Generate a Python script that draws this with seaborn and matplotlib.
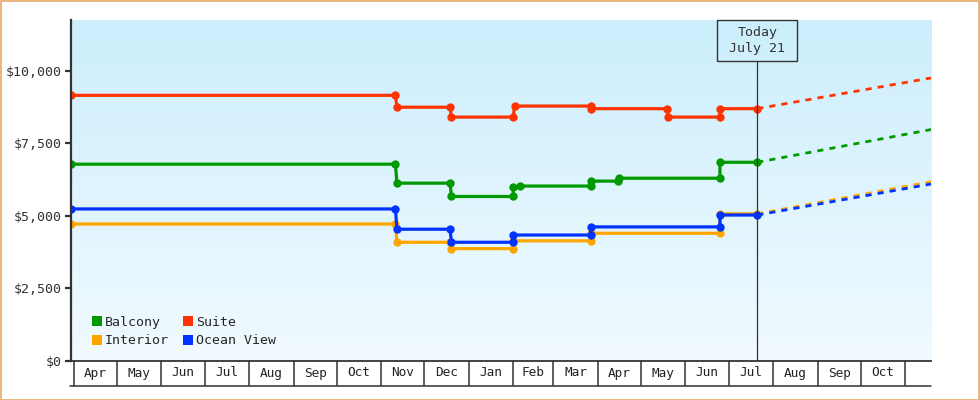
import numpy as np
import pandas as pd
import matplotlib
matplotlib.use("Agg")
import matplotlib.pyplot as plt
import matplotlib.dates as mdates
import matplotlib.transforms as mtransforms
from matplotlib.patches import Rectangle, Patch
import seaborn as sns

# ---------------- data ----------------
series_names = ["Balcony", "Suite", "Interior", "Ocean View"]
series_colors = ["#009900", "#ff3300", "#ffa500", "#0033ff"]

balcony_dates = ["2024-03-30", "2024-11-11", "2024-11-12", "2024-12-19", "2024-12-20",
                 "2025-02-01", "2025-02-01", "2025-02-06", "2025-03-27", "2025-03-27",
                 "2025-04-15", "2025-04-16", "2025-06-25", "2025-06-25", "2025-07-21"]
balcony_prices = [6775, 6775, 6120, 6120, 5660,
                  5660, 5970, 6020, 6020, 6190,
                  6190, 6290, 6290, 6840, 6840]

suite_dates = ["2024-03-30", "2024-11-11", "2024-11-12", "2024-12-19", "2024-12-20",
               "2025-02-01", "2025-02-02", "2025-03-27", "2025-03-27", "2025-05-19",
               "2025-05-20", "2025-06-25", "2025-06-25", "2025-07-21"]
suite_prices = [9150, 9150, 8740, 8740, 8400,
                8400, 8780, 8780, 8690, 8690,
                8400, 8400, 8690, 8690]

interior_dates = ["2024-03-30", "2024-11-11", "2024-11-12", "2024-12-19", "2024-12-20",
                  "2025-02-01", "2025-02-01", "2025-03-27", "2025-03-27", "2025-06-25",
                  "2025-06-25", "2025-07-21"]
interior_prices = [4710, 4710, 4080, 4080, 3860,
                   3860, 4130, 4130, 4390, 4390,
                   5060, 5060]

oceanview_dates = ["2024-03-30", "2024-11-11", "2024-11-12", "2024-12-19", "2024-12-20",
                   "2025-02-01", "2025-02-01", "2025-03-27", "2025-03-27", "2025-06-25",
                   "2025-06-25", "2025-07-21"]
oceanview_prices = [5230, 5230, 4530, 4530, 4080,
                    4080, 4330, 4330, 4610, 4610,
                    5020, 5020]

today_date = "2025-07-21"
today_label = "Today\nJuly 21"
forecast_end_date = "2025-11-19"
forecast_end_prices = [7970, 9750, 6170, 6090]   # Balcony, Suite, Interior, Ocean View

x_start = "2024-03-30"
month_labels = ["Apr", "May", "Jun", "Jul", "Aug", "Sep", "Oct", "Nov", "Dec", "Jan",
                "Feb", "Mar", "Apr", "May", "Jun", "Jul", "Aug", "Sep", "Oct"]
month_first = "2024-04-01"
y_ticks = [0, 2500, 5000, 7500, 10000]
y_max = 11750
legend_order = ["Balcony", "Interior", "Suite", "Ocean View"]

# ---------------- style ----------------
sns.set_style("white")
plt.rcParams["font.family"] = ["DejaVu Sans Mono"]
FS = 9.5
DARK = "#333333"

W, H = 980, 400
L, R, T, B = 71, 931, 20, 360.5
fig = plt.figure(figsize=(W / 100, H / 100), dpi=100)
ax = fig.add_axes([L / W, (H - B) / H, (R - L) / W, (B - T) / H])

# gradient background
g = np.linspace(0, 1, 256)[:, None, None]
top_c = np.array([0.80, 0.935, 0.99])
bot_c = np.array([0.945, 0.98, 1.0])
img = top_c[None, None, :] * (1 - g) + bot_c[None, None, :] * g
ax.imshow(img, extent=[0, 1, 0, 1], transform=ax.transAxes, aspect="auto",
          origin="upper", zorder=0, interpolation="bilinear")

all_dates = [balcony_dates, suite_dates, interior_dates, oceanview_dates]
all_prices = [balcony_prices, suite_prices, interior_prices, oceanview_prices]

for name, col, d, p, fend in zip(series_names, series_colors, all_dates, all_prices,
                                 forecast_end_prices):
    df = pd.DataFrame({"date": pd.to_datetime(d), "price": p})
    sns.lineplot(data=df, x="date", y="price", ax=ax, color=col, estimator=None,
                 sort=False, linewidth=2.3, marker="o", markersize=6,
                 markeredgewidth=0, zorder=3)
    fdf = pd.DataFrame({"date": pd.to_datetime([d[-1], forecast_end_date]),
                        "price": [p[-1], fend]})
    sns.lineplot(data=fdf, x="date", y="price", ax=ax, color=col, estimator=None,
                 sort=False, linewidth=2.0, linestyle=(0, (2.2, 2.2)), zorder=3)

ax.set_xlim(mdates.date2num(pd.Timestamp(x_start)),
            mdates.date2num(pd.Timestamp(forecast_end_date)))
ax.set_ylim(0, y_max)
ax.set_xlabel("")
ax.set_ylabel("")

# y axis
ax.set_yticks(y_ticks)
ax.set_yticklabels([f"${v:,}" for v in y_ticks])
ax.tick_params(axis="y", length=4, width=1.6, color=DARK, pad=2.5,
               labelsize=FS, labelcolor=DARK, left=True)
ax.set_xticks([])
for s in ["top", "right"]:
    ax.spines[s].set_visible(False)
ax.spines["left"].set_color(DARK)
ax.spines["left"].set_linewidth(1.6)
ax.spines["bottom"].set_color(DARK)
ax.spines["bottom"].set_linewidth(1.3)
ax.spines["left"].set_zorder(5)

# month boxes under the axis
trans = mtransforms.blended_transform_factory(ax.transData, ax.transAxes)
box_h = 25 / (B - T)
bounds = pd.date_range(month_first, periods=len(month_labels) + 1, freq="MS")
bnum = mdates.date2num(bounds)
ax.vlines(bnum, -box_h, 0, transform=trans, colors=DARK, lw=1.1, clip_on=False)
ax.plot([-1 / (R - L), 1], [-box_h, -box_h], transform=ax.transAxes, color=DARK,
        lw=1.1, clip_on=False)
for i, lab in enumerate(month_labels):
    ax.text((bnum[i] + bnum[i + 1]) / 2, -box_h / 2, lab, transform=trans,
            ha="center", va="center", fontsize=FS - 0.3, color="#222222")

# today marker
tnum = mdates.date2num(pd.Timestamp(today_date))
days_per_px = (ax.get_xlim()[1] - ax.get_xlim()[0]) / (R - L)
box_w_days = 80 * days_per_px
box_hh = 40.7 / (B - T)
ax.add_patch(Rectangle((tnum - box_w_days / 2, 1 - box_hh), box_w_days, box_hh,
                       transform=trans, fill=False, edgecolor=DARK, lw=1.0,
                       clip_on=False, zorder=6))
ax.text(tnum, 1 - box_hh / 2, today_label, transform=trans, ha="center",
        va="center", fontsize=FS, color=DARK, linespacing=1.25, zorder=6)
ax.vlines(tnum, 0, 1 - box_hh, transform=trans, colors=DARK, lw=0.9, zorder=4)

# legend (column-wise fill: Balcony/Interior, Suite/Ocean View)
color_of = dict(zip(series_names, series_colors))
handles = [Patch(facecolor=color_of[n], edgecolor="none", label=n)
           for n in legend_order]
ax.legend(handles=handles, ncol=2, loc="lower left",
          bbox_to_anchor=(21 / (R - L), 13 / (B - T)), frameon=False,
          fontsize=FS, handlelength=0.75, handleheight=0.75, handletextpad=0.25,
          columnspacing=1.05, labelspacing=0.45, borderpad=0, borderaxespad=0)

# outer border
fig.patches.append(Rectangle((0.5 / W, 0.5 / H), 1 - 1.5 / W, 1 - 1.5 / H,
                             transform=fig.transFigure, fill=False,
                             edgecolor="#e6a86a", lw=1.2))

fig.savefig("out.png", dpi=100)
